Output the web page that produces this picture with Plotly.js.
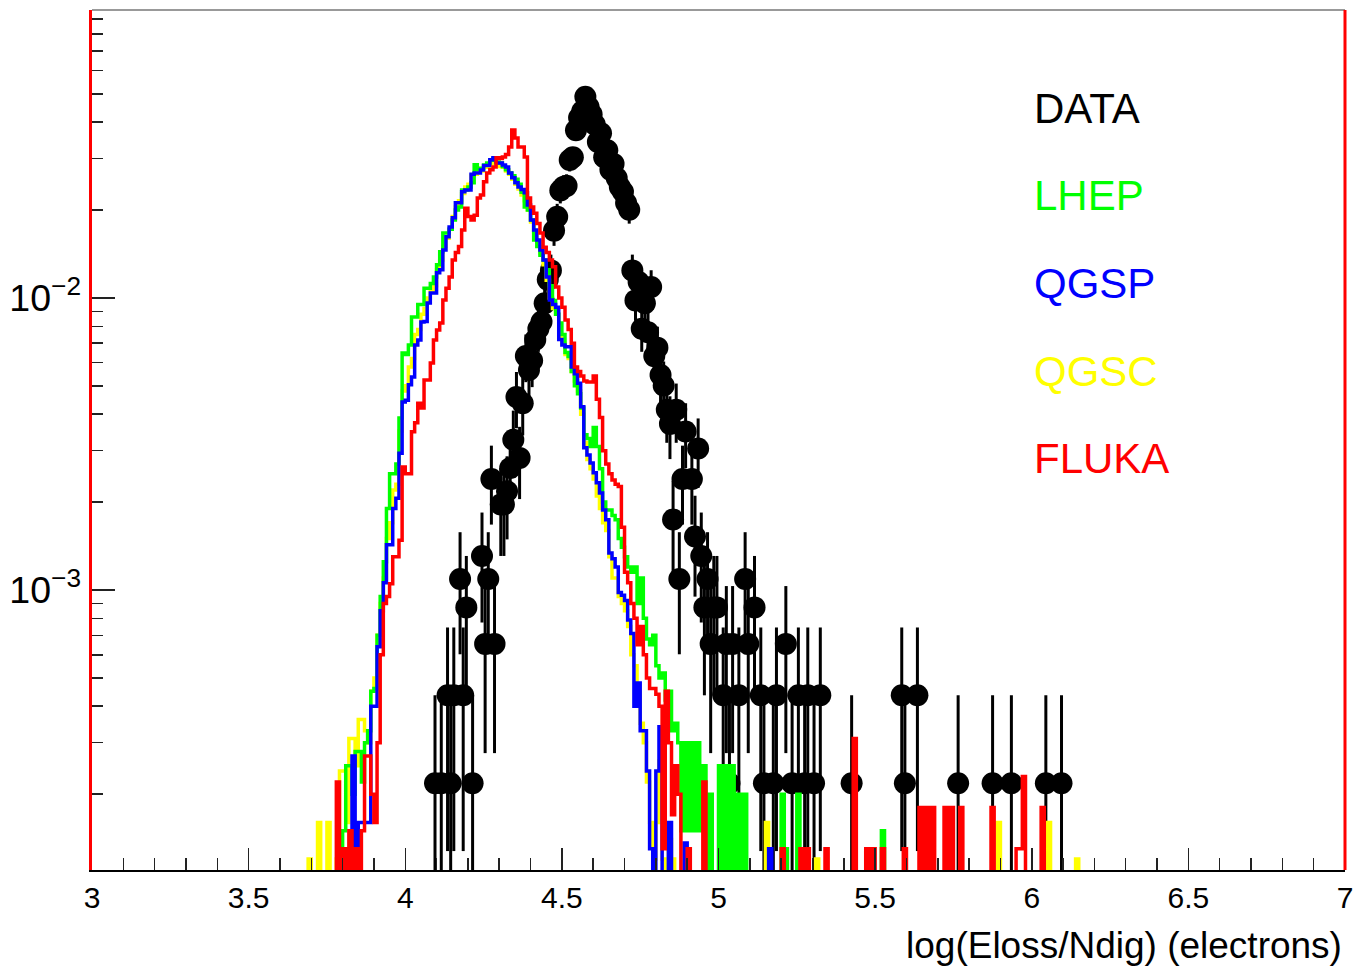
<!DOCTYPE html>
<html><head><meta charset="utf-8">
<script src="https://cdn.plot.ly/plotly-3.0.1.min.js"></script>
<style>html,body{margin:0;padding:0;background:#fff}#chart{width:1366px;height:968px}</style>
</head><body><div id="chart"></div>
<script>
// Histogram binning: 0.01 wide bins, first bin starts at 3.60 (260 bins -> 3.60 .. 6.20)
const BIN_LO = 3.60;
const BIN_W = 0.01;
// MC values are in units of 1e-4 (normalised entries per bin)
const MC_UNIT = 1e-4;
// DATA: raw entries per bin; one entry corresponds to this normalised value
const DATA_NORM = 2.18e-4;

const LHEP = [
 0,0,0,0,0,0,0,0,0,0,
 0,0,0,0,0,0,0,0,0,1.3,
 1.5,2.5,2.5,2.0,2.8,2.8,2.2,3.0,3.3,4.5,
 4.6,7.0,9.5,12.5,19,25,25,27,38.8,64.8,
 64,69,86,86,95,95,108,108,112,118,
 130,144,167,167,172,185,200,205,234,234,
 240,248,286,275,278,285,290,296,300,292,
 290,282,275,268,262,255,245,230,205,200,
 185,158,150,140,135,125,110,98,88,82,
 75,65,63,56,50,47,42,34,33,31,
 36,31,26,20,18.8,18.8,18,17.4,15,14,
 13,12,11.5,12,9,11,8,6.8,6.5,7,
 5.5,5,5.2,4.2,4.5,3.3,3.5,3.0,1.5,3.0,
 1.5,3.0,1.5,3.0,1.5,2.5,0,2.0,0,0,
 2.5,0,2.5,0,2.5,0,2.0,0,2.0,0,
 0,0,0,0,0,0,0,0,0,0,
 2.0,1.3,0,0,0,2.0,0,0,0,0,
 0,0,0,0,0,0,0,0,0,0,
 0,0,0,0,0,0,0,0,0,0,
 0,0,1.5,0,0,0,0,0,0,0,
 0,0,0,0,0,0,0,0,0,0,
 0,0,0,0,0,0,0,0,0,0,
 0,0,0,0,0,0,0,0,0,0,
 0,0,0,0,0,0,0,0,0,0,
 0,0,0,0,0,0,0,0,0,0,
 0,0,0,0,0,0,0,0,0,0
];

const QGSP = [
 0,0,0,0,0,0,0,0,0,0,
 0,0,0,0,0,0,0,0,0,1.3,
 0,1.3,0,2.7,0,1.6,1.6,1.6,1.6,4.0,
 4.0,6.4,8.5,10.6,14.3,14.3,19,20.6,29.4,44,
 44.6,50.4,53.6,69,71.8,82.8,83,96,104,104,
 122,125,146,162,175,188,212,212,231,234,
 234,265,268,268,274,284,284,297,302,290,
 290,285,281,268,258,248,240,235,229,208,
 185,171,158,146,135,118,98.4,95,93,72,
 69,68,68,58,55,51,42.4,30.7,29,27.2,
 25.2,23.3,21.5,18.8,17.4,13.4,12.8,12,9.8,9.6,
 9.2,7.9,7.1,4.0,4.8,3.3,3.3,2.4,1.3,0,
 2.4,3.4,0,0,1.6,0,0,0,0,1.36,
 0,0,0,0,0,0,0,0,0,0,
 0,0,0,0,0,0,0,0,0,0,
 0,0,0,0,0,0,1.3,0,0,0,
 0,0,0,0,0,0,0,1.3,0,0,
 0,0,0,0,0,0,0,0,0,0,
 0,0,0,0,0,0,0,0,0,0,
 0,0,0,0,0,0,0,0,0,0,
 0,0,0,0,0,0,0,0,0,0,
 0,0,0,0,0,0,0,0,0,0,
 0,0,0,0,0,0,0,0,0,0,
 0,0,0,0,0,0,0,0,0,0,
 0,0,0,0,0,0,0,0,0,0,
 0,0,0,0,0,0,0,0,0,0
];

const QGSC = [
 0,0,0,0,0,0,0,0,0,1.2,
 0,0,1.6,0,0,1.6,0,0,1.2,2.4,
 2.4,1.6,3.1,3.1,2.5,3.6,3.6,3.3,3.0,4.5,
 5.0,7,9,11,15,17,22,23,35,48,
 50,58,62,75,78,88,92,100,106,110,
 125,135,150,160,172,190,205,215,228,240,
 245,262,265,270,272,280,282,290,288,285,
 282,280,272,265,255,245,236,225,215,200,
 182,168,155,142,130,115,100,92,88,74,
 70,64,62,56,52,48,40,32,28,26,
 24,21,19,17,16,13,11,11,9.5,9,
 8.5,7.5,6,5.5,4.5,3.5,3.0,2.2,1.6,1.2,
 1.6,2.6,1.2,0,1.4,1.2,0,0,0,0,
 0,0,0,0,0,0,0,0,0,0,
 0,0,0,0,0,0,0,0,0,0,
 0,0,0,0,0,1.6,0,0,0,0,
 0,0,0,0,0,0,0,0,0,0,
 0,1.2,0,0,0,0,0,0,0,0,
 0,0,0,0,0,0,0,0,0,0,
 0,0,0,0,0,0,0,0,0,0,
 0,0,0,0,0,0,0,0,0,0,
 0,0,0,0,0,0,0,0,0,0,
 0,0,0,0,0,0,0,0,0,1.6,
 0,0,0,0,0,0,0,0,0,0,
 0,0,0,0,0,1.6,0,0,0,0,
 0,0,0,0,1.2,0,0,0,0,0
];

const FLUKA = [
 0,0,0,0,0,0,0,0,0,0,
 0,0,0,0,0,0,0,0,2.2,0,
 1.3,0,1.5,0,1.3,0,1.5,2.7,2.7,2.0,
 1.6,3.0,6.0,9.0,9.5,10.5,13,13,14.8,26.4,
 25,25,34.8,37.4,43.6,42,52.4,52.4,59.9,71.8,
 77.7,82,98.4,108,118,135,143,150,171,203,
 190,185,192,220,225,250,268,275,281,302,
 300,304,310,329,376,353,329,329,304,220,
 205,195,180,167,149,143,135,128,109,100,
 93,84,78,70,58,56,54,52,51.5,51.5,
 54,45,39,30,27,25,23.8,23,22.6,16.4,
 11.5,10.6,9,8,6.5,7.5,6,5,4.6,4.6,
 4.4,4.0,1.3,4.5,3.0,1.7,2.5,2.0,0,0,
 1.3,0,0,0,0,2.2,0,0,0,0,
 0,0,0,0,0,0,0,0,0,0,
 0,0,0,0,0,0,0,0,0,0,
 1.3,0,0,0,0,0,1.3,0,1.3,0,
 0,0,0,0,1.3,0,0,0,0,0,
 0,0,0,3.1,0,0,0,1.3,0,1.3,
 0,0,1.3,0,0,0,0,0,0,1.3,
 0,0,0,0,1.8,0,1.8,0,1.8,0,
 0,0,1.8,0,1.8,0,0,1.8,0,0,
 0,0,0,0,0,0,0,1.8,0,0,
 0,0,0,0,0,1.3,1.3,2.3,0,0,
 0,0,0,1.8,0,0,0,0,0,0,
 0,0,0,0,0,0,0,0,0,0
];

const DATA_COUNTS = [
 0,0,0,0,0,0,0,0,0,0,
 0,0,0,0,0,0,0,0,0,0,
 0,0,0,0,0,0,0,0,0,0,
 0,0,0,0,0,0,0,0,0,0,
 0,0,0,0,0,0,0,0,0,1,
 0,1,0,2,1,2,0,5,2,4,
 0,1,0,0,6,3,5,11,3,0,
 9,9,10,12,15,21,13,20,29,26,
 28,33,36,38,44,53,57,78,87,107,
 110,111,136,139,172,190,200,224,207,195,
 180,157,168,139,147,126,132,118,110,106,
 97,92,57,45,52,36,44,35,50,29,
 31,25,23,19,17,8,19,5,11,16,
 0,11,7,14,6,4,5,3,4,4,
 0,2,3,1,3,0,2,0,5,3,
 0,4,0,2,1,0,0,1,2,0,
 0,3,0,1,0,2,0,1,2,0,
 1,0,2,0,0,0,0,0,0,0,
 0,0,1,0,0,0,0,0,0,0,
 0,0,0,0,0,0,0,0,2,1,
 0,0,0,2,0,0,0,0,0,0,
 0,0,0,0,0,0,1,0,0,0,
 0,0,0,0,0,0,0,1,0,0,
 0,0,0,1,0,0,0,0,0,0,
 0,0,0,0,1,0,0,0,0,1,
 0,0,0,0,0,0,0,0,0,0
];

const SERIES_NAMES = ['DATA', 'LHEP', 'QGSP', 'QGSC', 'FLUKA'];
const SERIES_COLORS = ['#000000', '#00ff00', '#0000ff', '#ffff00', '#ff0000'];

const FLOOR = 1e-7; // empty bins drop below the axis minimum
const nBins = LHEP.length;
const edges = [];
for (let i = 0; i <= nBins; i++) edges.push(+(BIN_LO + i * BIN_W).toFixed(4));

function histTrace(vals, color, name) {
  const ys = vals.map(v => v > 0 ? v * MC_UNIT : FLOOR);
  ys.push(ys[ys.length - 1]);
  return {
    type: 'scatter', mode: 'lines', name: name,
    x: edges, y: ys,
    line: {shape: 'hv', color: color, width: 3.5},
    hoverinfo: 'skip'
  };
}

const dx = [], dy = [], de = [];
DATA_COUNTS.forEach((c, i) => {
  if (c > 0) {
    dx.push(+(BIN_LO + (i + 0.5) * BIN_W).toFixed(4));
    dy.push(c * DATA_NORM);
    de.push(Math.sqrt(c) * DATA_NORM);
  }
});

const traces = [
  {
    type: 'scatter', mode: 'markers', name: 'DATA', x: dx, y: dy,
    marker: {color: '#000', size: 22, line: {width: 0}},
    error_y: {type: 'data', array: de, arrayminus: de, visible: true, color: '#000', thickness: 3, width: 0},
    hoverinfo: 'skip'
  },
  histTrace(QGSC, SERIES_COLORS[3], 'QGSC'),
  histTrace(LHEP, SERIES_COLORS[1], 'LHEP'),
  histTrace(QGSP, SERIES_COLORS[2], 'QGSP'),
  histTrace(FLUKA, SERIES_COLORS[4], 'FLUKA')
];

const legendY = [0.886, 0.784, 0.682, 0.580, 0.478];
const annotations = SERIES_NAMES.map((n, i) => ({
  xref: 'paper', yref: 'paper', x: 0.750, y: legendY[i],
  xanchor: 'left', yanchor: 'middle', showarrow: false,
  text: n, font: {size: 42, color: SERIES_COLORS[i], family: 'Liberation Sans, Arial, sans-serif'}
}));
annotations.push({
  xref: 'paper', yref: 'paper', x: 0.999, y: -0.088,
  xanchor: 'right', yanchor: 'middle', showarrow: false,
  text: 'log(Eloss/Ndig) (electrons)', font: {size: 37, color: '#000', family: 'Liberation Sans, Arial, sans-serif'}
});

const layout = {
  width: 1366, height: 968,
  margin: {l: 92, r: 21, t: 10, b: 98, pad: 0},
  paper_bgcolor: '#ffffff', plot_bgcolor: '#ffffff',
  showlegend: false,
  font: {family: 'Liberation Sans, Arial, sans-serif', color: '#000', size: 30},
  xaxis: {
    range: [3, 7], tickmode: 'linear', tick0: 3, dtick: 0.5,
    ticks: 'inside', ticklen: 22, tickwidth: 1.5, tickcolor: '#222',
    showline: true, linecolor: '#000', linewidth: 2, mirror: false,
    showgrid: false, zeroline: false,
    tickfont: {size: 30, color: '#000'}, ticklabelstandoff: 0,
    minor: {dtick: 0.1, tick0: 3, ticks: 'inside', ticklen: 12, tickwidth: 1.5, tickcolor: '#222', showgrid: false}
  },
  yaxis: {
    type: 'log', range: [Math.log10(1.1e-4), Math.log10(0.0968)],
    tickmode: 'linear', tick0: 0, dtick: 1, exponentformat: 'power',
    ticks: 'inside', ticklen: 23, tickwidth: 1.5, tickcolor: '#222',
    showline: true, linecolor: '#ff0000', linewidth: 3, mirror: false,
    showgrid: false, zeroline: false,
    tickfont: {size: 30, color: '#000'}, ticklabelstandoff: 2,
    minor: {dtick: 'D1', ticks: 'inside', ticklen: 11, tickwidth: 1.5, tickcolor: '#222', showgrid: false}
  },
  shapes: [
    {type: 'line', xref: 'paper', yref: 'paper', x0: 0, x1: 1, y0: 1, y1: 1, line: {color: '#777', width: 1.5}},
    {type: 'line', xref: 'paper', yref: 'paper', x0: 1, x1: 1, y0: 0, y1: 1, line: {color: '#ff0000', width: 3}}
  ],
  annotations: annotations
};

Plotly.newPlot('chart', traces, layout, {staticPlot: true, displayModeBar: false});
</script>
</body></html>
